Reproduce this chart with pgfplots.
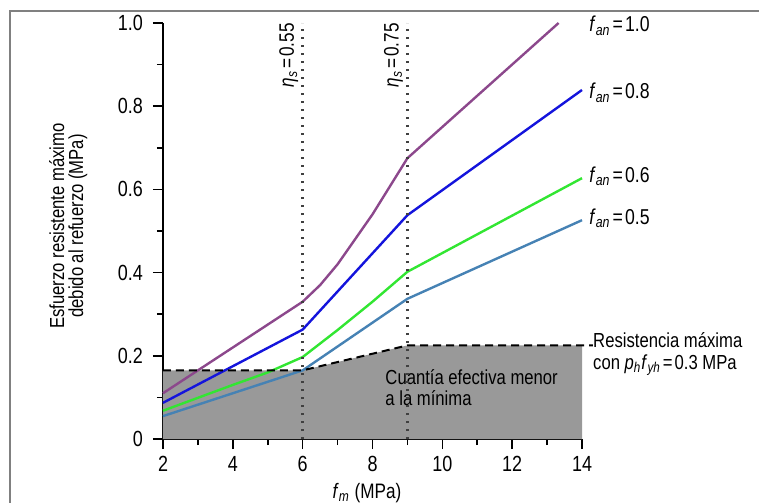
\documentclass[border=0pt]{standalone}
\usepackage{fontspec}
\setmainfont{Liberation Sans}[FakeStretch=0.82]
\usepackage{pgfplots}
\pgfplotsset{compat=1.18}
\usetikzlibrary{calc}
\definecolor{cpur}{RGB}{140,72,140}
\definecolor{cblu}{RGB}{20,20,220}
\definecolor{cgrn}{RGB}{50,230,50}
\definecolor{cstl}{RGB}{70,130,180}
\definecolor{cfill}{RGB}{153,153,153}
\newcommand{\eq}{\hspace{0.1em}=\hspace{0.1em}}
\begin{document}
\begin{tikzpicture}
\begin{axis}[name=ax, scale only axis, width=209.5bp, height=208bp,
  xmin=2, xmax=14, ymin=0, ymax=1,
  axis x line*=bottom, axis y line*=left,
  axis line style={line width=1bp,-},
  xtick={2,4,6,8,10,12,14},
  ytick={0,0.2,0.4,0.6,0.8,1.0},
  yticklabels={0,0.2,0.4,0.6,0.8,1.0},
  minor x tick num=1, minor y tick num=1,
  tick align=outside, major tick length=5bp, minor tick length=3bp,
  tick style={line width=0.8bp,black},
  ticklabel style={font=\fontsize{11}{12}\selectfont},
  yticklabel style={xshift=-1.5bp},
  /pgf/number format/assume math mode=true,
  clip=false,
  xlabel={\textit{f}\textsubscript{\textit{m}} (MPa)},
  xlabel style={font=\fontsize{10.5}{12}\selectfont, at={(axis description cs:0.487,0)}, anchor=center, yshift=-27bp},
  ylabel={Esfuerzo resistente máximo\\debido al refuerzo (MPa)},
  ylabel style={font=\fontsize{10.2}{9.6}\selectfont, align=center, at={(axis description cs:-0.226,0.512)}, anchor=center},
]
% shaded region
\addplot[draw=none, fill=cfill] coordinates {(2,0) (2,0.165) (6,0.165) (9,0.225) (14,0.225) (14,0)} -- cycle;
% curves
\addplot[cpur, line width=1.2bp] coordinates {(2,0.11) (4,0.22) (6,0.33) (6.5,0.37) (7,0.42) (8,0.54) (9,0.675) (13.33,1.0)};
\addplot[cblu, line width=1.2bp] coordinates {(2,0.087) (4,0.175) (6,0.263) (9,0.538) (14,0.839)};
\addplot[cgrn, line width=1.2bp] coordinates {(2,0.068) (4,0.13) (5,0.16) (6,0.197) (7,0.262) (8,0.33) (9,0.402) (14,0.627)};
\addplot[cstl, line width=1.2bp] coordinates {(2,0.055) (6,0.165) (9,0.337) (14,0.526)};
% dashed boundary
\addplot[black, line width=1bp, dash pattern=on 4bp off 2.5bp] coordinates {(2,0.165) (6,0.165) (9,0.225) (14.31,0.225)};
% annotations
\node[anchor=west, align=left, font=\fontsize{10.2}{10.8}\selectfont, inner sep=0pt] at (axis cs:8.36,0.124) {Cuantía efectiva menor\\a la mínima};
\addplot[black!75, line width=1.2bp, dash pattern=on 0.8bp off 3.2bp] coordinates {(6,0) (6,1)};
\addplot[black!75, line width=1.2bp, dash pattern=on 0.8bp off 3.2bp] coordinates {(9,0) (9,1)};
\node[rotate=90, anchor=base east, inner sep=0pt, font=\fontsize{10.5}{12}\selectfont] at (axis cs:5.75,1.0) {\textit{η}\textsubscript{\textit{s}}\eq 0.55};
\node[rotate=90, anchor=base east, inner sep=0pt, font=\fontsize{10.5}{12}\selectfont] at (axis cs:8.75,1.0) {\textit{η}\textsubscript{\textit{s}}\eq 0.75};
\node[anchor=west, inner sep=0pt, font=\fontsize{10.8}{12}\selectfont] at (axis cs:14.2,0.993) {\textit{f}\textsubscript{\textit{an}}\eq 1.0};
\node[anchor=west, inner sep=0pt, font=\fontsize{10.8}{12}\selectfont] at (axis cs:14.2,0.832) {\textit{f}\textsubscript{\textit{an}}\eq 0.8};
\node[anchor=west, inner sep=0pt, font=\fontsize{10.8}{12}\selectfont] at (axis cs:14.2,0.632) {\textit{f}\textsubscript{\textit{an}}\eq 0.6};
\node[anchor=west, inner sep=0pt, font=\fontsize{10.8}{12}\selectfont] at (axis cs:14.2,0.531) {\textit{f}\textsubscript{\textit{an}}\eq 0.5};
\node[anchor=west, align=left, inner sep=0pt, font=\fontsize{10.2}{11}\selectfont] at (axis cs:14.31,0.204) {Resistencia máxima\\con \textit{p}\textsubscript{\textit{h}}\textit{f}\textsubscript{\textit{yh}}\eq 0.3 MPa};
\end{axis}
\coordinate (P0) at ($(ax.south west)+(-81.5bp,219.5bp)$);
\begin{scope}[shift={(P0)}, x=0.5bp, y=-0.5bp]
\draw[gray, line width=1bp] (10,503) -- (10,11) -- (759,11);
\end{scope}
\pgfresetboundingbox
\path[use as bounding box] ($(P0)$) rectangle ($(P0)+(379.5bp,-251.5bp)$);
\end{tikzpicture}
\end{document}
